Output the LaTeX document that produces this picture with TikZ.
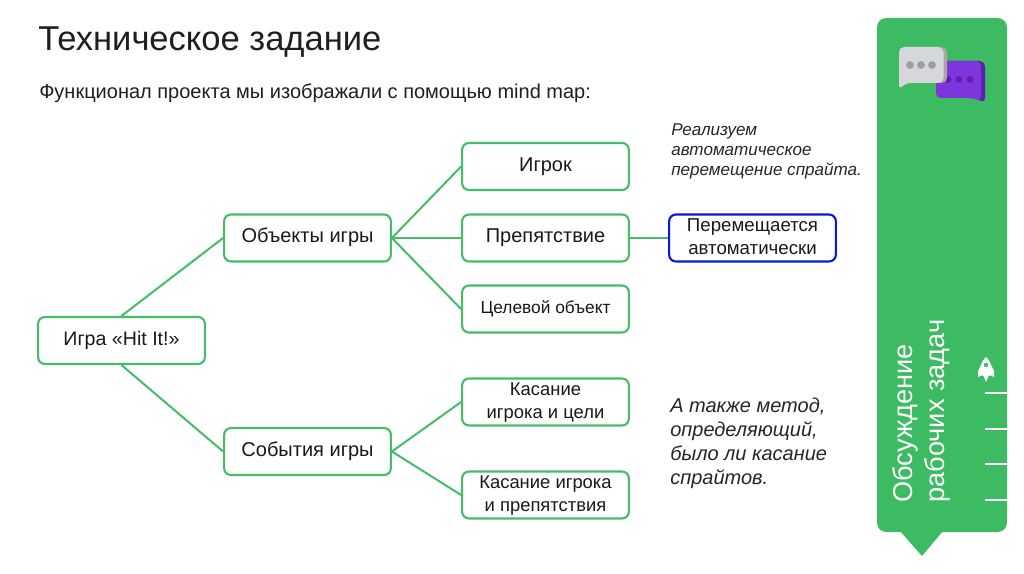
\documentclass[tikz,border=0pt]{standalone}
\usepackage{fontspec}
\setmainfont{Liberation Sans}
\definecolor{gr}{HTML}{3CBB63}
\definecolor{edge}{HTML}{45BD68}
\definecolor{blu}{HTML}{0A18D8}
\definecolor{pd}{HTML}{5A22A8}
\definecolor{pl}{HTML}{7E35DC}
\definecolor{bl}{HTML}{D6D7DD}
\definecolor{bs}{HTML}{ADA5A5}
\newcommand\lbl[2][-1.6pt]{\raisebox{#1}{\begin{tabular}{@{}c@{}}#2\end{tabular}}}
\tikzset{
 box/.style={draw=edge,line width=1.6pt,rounded corners=5pt,minimum width=125pt,minimum height=35.2pt,inner sep=0pt,font=\fontsize{15}{18}\selectfont,text=black!90,fill=white},
 conn/.style={draw=edge,line width=1.5pt},
 note/.style={anchor=north west,align=left,text=black!85,inner sep=0pt},
 tick/.style={draw=white,line width=0.9pt},
}
\begin{document}
\begin{tikzpicture}[x=0.75pt,y=-0.75pt]
\useasboundingbox (0,0) rectangle (1024,574);
\fill[white] (0,0) rectangle (1024,574);
\node[box,font=\fontsize{14.7}{18}\selectfont] (root) at (121.5,340.5) {\lbl{Игра «Hit It!»}};
\node[box] (obj) at (307.5,238) {\lbl{Объекты игры}};
\node[box] (ev) at (307.5,451.5) {\lbl{События игры}};
\node[box] (pl) at (545.5,166.5) {\lbl{Игрок}};
\node[box] (ob) at (545.5,238) {\lbl{Препятствие}};
\node[box,font=\fontsize{13}{18}\selectfont] (tg) at (545.5,309) {\lbl{Целевой объект}};
\node[box,font=\fontsize{13.8}{17.3}\selectfont] (t1) at (545.5,402) {\lbl[-2pt]{Касание\\игрока и цели}};
\node[box,font=\fontsize{13.8}{17.3}\selectfont] (t2) at (545.5,495) {\lbl[-2pt]{Касание игрока\\и препятствия}};
\node[box,draw=blu,font=\fontsize{14}{17.3}\selectfont] (auto) at (752.5,238) {\lbl[-0.7pt]{Перемещается\\автоматически}};
\draw[conn] (root.north) -- (obj.west);
\draw[conn] (root.south) -- (ev.west);
\draw[conn] (obj.east) -- (pl.west);
\draw[conn] (obj.east) -- (ob.west);
\draw[conn] (obj.east) -- (tg.west);
\draw[conn] (ev.east) -- (t1.west);
\draw[conn] (ev.east) -- (t2.west);
\draw[conn] (ob.east) -- (auto.west);
% texts
\node[anchor=base west,inner sep=0pt,font=\fontsize{25.9}{30}\selectfont,text=black!88] (title) at (38,51) {Техническое задание};
\node[anchor=base west,inner sep=0pt,font=\fontsize{15}{18}\selectfont,text=black!88] (sub) at (39,99) {Функционал проекта мы изображали с помощью mind map:};
\node[note,font=\itshape\fontsize{12.8}{15}\selectfont] (n1) at (671,123.5) {Реализуем\\автоматическое\\перемещение спрайта.};
\node[note,font=\itshape\fontsize{15}{18.1}\selectfont] (n2) at (670,397.5) {А также метод,\\определяющий,\\было ли касание\\спрайтов.};
% sidebar
\fill[gr,rounded corners=7pt] (877,18) rectangle (1007,532);
\fill[gr] (900,531) -- (943,531) -- (922,556) -- cycle;
\node[rotate=90,anchor=north west,align=left,inner sep=0pt,text=white,font=\fontsize{20.4}{24}\selectfont] (side) at (892,503) {Обсуждение\\рабочих задач};
\foreach \yy in {393,429,464,500}{\draw[tick] (985,\yy) -- (1007,\yy);}
% rocket
\fill[white] (986,357) .. controls (981,361) and (979.5,368) .. (980.5,375) -- (983.5,376) -- (986,382) -- (988.5,376) -- (991.5,375) .. controls (992.5,368) and (991,361) .. (986,357) -- cycle;
\fill[white] (981,365) -- (978,371) -- (978,377) -- (982,375) -- cycle;
\fill[white] (991,365) -- (994,371) -- (994,377) -- (990,375) -- cycle;
\fill[gr] (986,365) circle (2.2);
% chat icons
\fill[pd,rounded corners=4pt] (936,61) -- (985,61) -- (985,103) -- (975,98) -- (936,98) -- cycle;
\fill[pl,rounded corners=4pt] (936,61) -- (981,61) -- (981,101) -- (973,98) -- (936,98) -- cycle;
\foreach \xx in {948,959,970}{\fill[pd] (\xx,79.5) circle (3.4);}
\fill[bs,rounded corners=4pt] (899,47) -- (947,47) -- (947,83) -- (905,83) -- (899,90) -- cycle;
\fill[bl,rounded corners=4pt] (899,47) -- (943.5,47) -- (943.5,83) -- (905,83) -- (899,90) -- cycle;
\foreach \xx in {910,921,932}{\fill[black!38] (\xx,65) circle (3.9);}
\end{tikzpicture}
\end{document}
